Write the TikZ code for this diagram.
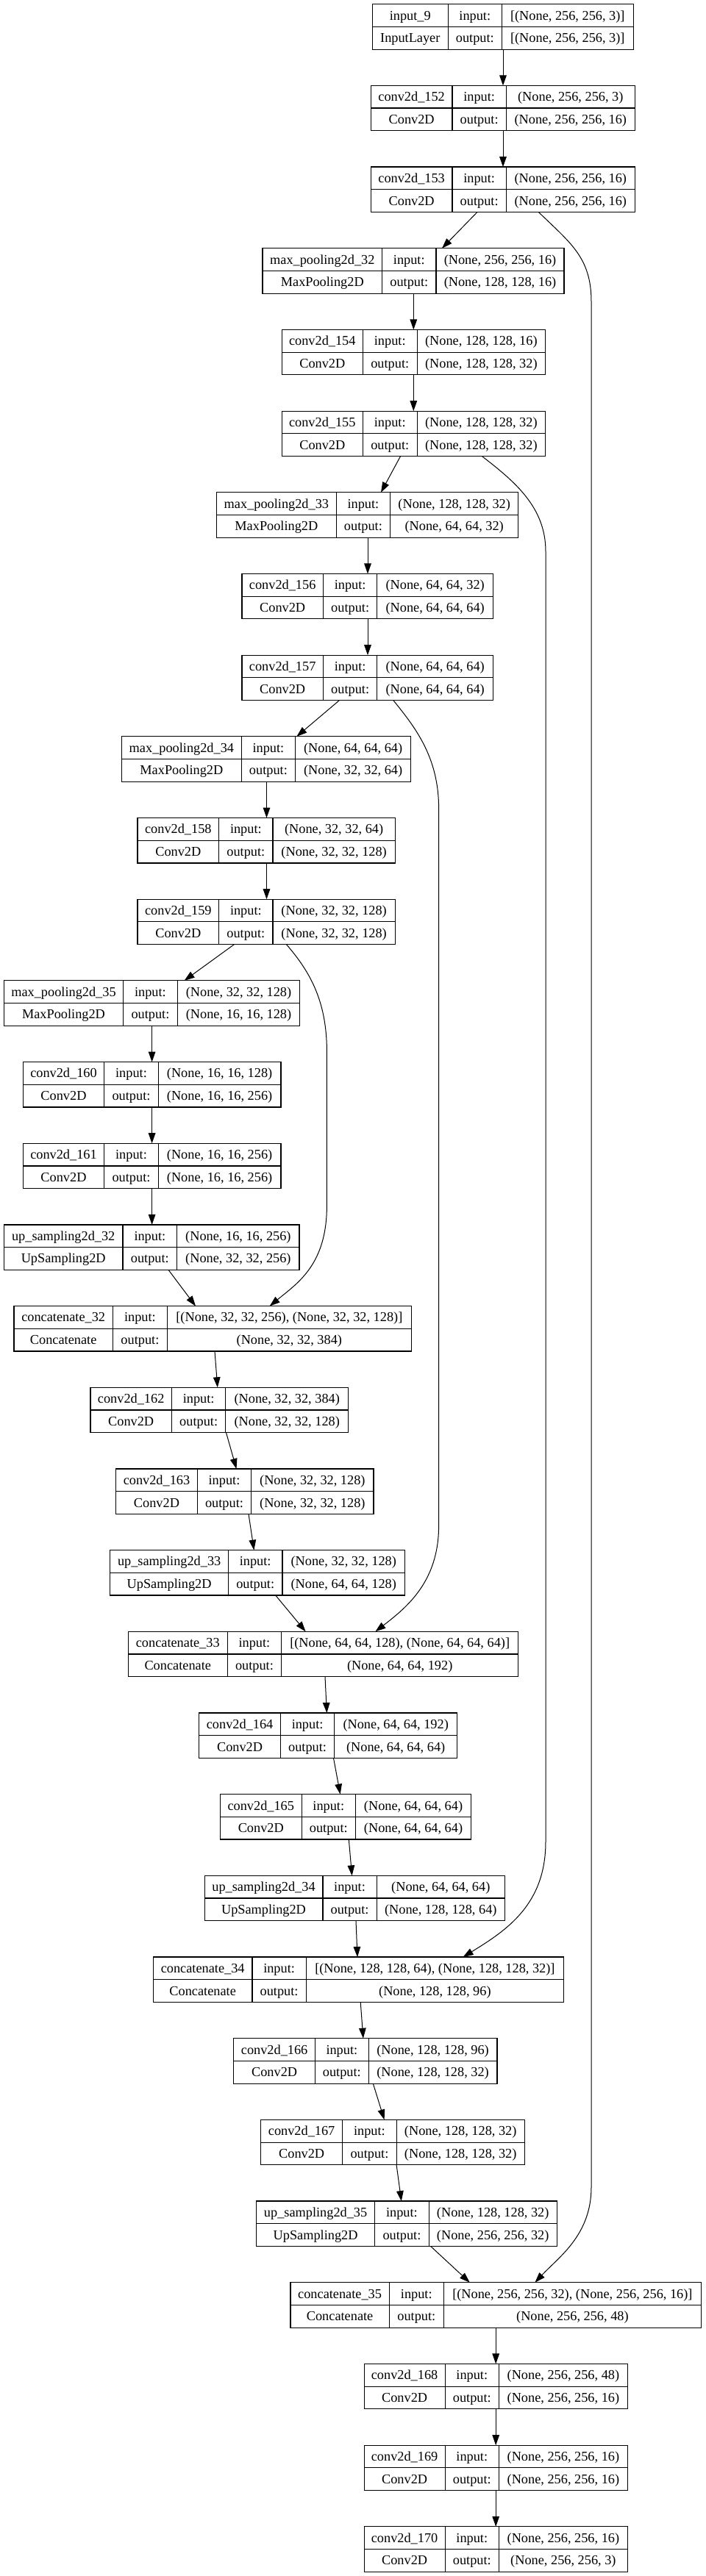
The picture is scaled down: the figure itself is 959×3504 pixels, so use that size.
\documentclass[tikz,border=0pt]{standalone}
\usepackage{fontspec}
\setmainfont{Liberation Serif}
\usetikzlibrary{arrows.meta}
\tikzset{
  boxline/.style={line width=1.2pt},
  lbl/.style={anchor=base, inner sep=0pt, font=\fontsize{18.3}{20}\selectfont},
  arr/.style={line width=1pt, -{Triangle[length=14pt,width=9.6pt]}},
}
% #1 name, #2 row index, #3 x1, #4 x2, #5 divider 1, #6 divider 2, #7 layer name, #8 class, #9 input shape; then {output shape}
\newcommand\lay[9]{%
  \pgfmathsetmacro\LTy{5.7+#2*110.68}%
  \pgfmathsetmacro\LBy{\LTy+61.4}%
  \pgfmathsetmacro\LMy{\LTy+30.7}%
  \pgfmathsetmacro\LWd{#4-#3}%
  \pgfmathsetmacro\LRa{\LTy+21.35}%
  \pgfmathsetmacro\LRb{\LTy+52.05}%
  \pgfmathsetmacro\LCa{(#3+#5)/2}%
  \pgfmathsetmacro\LCb{(#5+#6)/2}%
  \pgfmathsetmacro\LCc{(#6+#4)/2}%
  \node[boxline, draw, anchor=north west, minimum width=\LWd pt, minimum height=61.4pt, inner sep=0pt, outer sep=0pt] (#1) at (#3,\LTy) {};
  \draw[boxline] (#3,\LMy) -- (#4,\LMy);
  \draw[boxline] (#5,\LTy) -- (#5,\LBy);
  \draw[boxline] (#6,\LTy) -- (#6,\LBy);
  \node[lbl] (#1-name) at (\LCa,\LRa) {#7};
  \node[lbl] (#1-cls) at (\LCa,\LRb) {#8};
  \node[lbl] (#1-ik) at (\LCb,\LRa) {input:};
  \node[lbl] (#1-ok) at (\LCb,\LRb) {output:};
  \node[lbl] (#1-in) at (\LCc,\LRa) {#9};
  \layout{#1}}
\newcommand\layout[2]{\node[lbl] (#1-out) at (\LCc,\LRb) {#2};}
\begin{document}
\begin{tikzpicture}[x=1pt, y=-1pt]
\useasboundingbox (0,0) rectangle (959,3504);
\fill[white] (0,0) rectangle (959,3504);

\lay{n9}{0}{506.3}{861.3}{609.3}{682.3}{input\_9}{InputLayer}{[(None, 256, 256, 3)]}{[(None, 256, 256, 3)]}
\lay{c152}{1}{504.3}{863.3}{615}{688.3}{conv2d\_152}{Conv2D}{(None, 256, 256, 3)}{(None, 256, 256, 16)}
\lay{c153}{2}{504.3}{863.3}{615}{688.3}{conv2d\_153}{Conv2D}{(None, 256, 256, 16)}{(None, 256, 256, 16)}
\lay{mp32}{3}{357}{767}{519.6}{593}{max\_pooling2d\_32}{MaxPooling2D}{(None, 256, 256, 16)}{(None, 128, 128, 16)}
\lay{c154}{4}{383.3}{741.5}{493.3}{567.2}{conv2d\_154}{Conv2D}{(None, 128, 128, 16)}{(None, 128, 128, 32)}
\lay{c155}{5}{383.3}{741.5}{493.3}{567.2}{conv2d\_155}{Conv2D}{(None, 128, 128, 32)}{(None, 128, 128, 32)}
\lay{mp33}{6}{294.6}{704.8}{457.2}{530.6}{max\_pooling2d\_33}{MaxPooling2D}{(None, 128, 128, 32)}{(None, 64, 64, 32)}
\lay{c156}{7}{328.9}{670.5}{439.5}{512.8}{conv2d\_156}{Conv2D}{(None, 64, 64, 32)}{(None, 64, 64, 64)}
\lay{c157}{8}{328.9}{670.5}{439.5}{512.8}{conv2d\_157}{Conv2D}{(None, 64, 64, 64)}{(None, 64, 64, 64)}
\lay{mp34}{9}{165.6}{558.7}{328.2}{401.6}{max\_pooling2d\_34}{MaxPooling2D}{(None, 64, 64, 64)}{(None, 32, 32, 64)}
\lay{c158}{10}{187}{537.3}{297.7}{371}{conv2d\_158}{Conv2D}{(None, 32, 32, 64)}{(None, 32, 32, 128)}
\lay{c159}{11}{187}{537.3}{297.7}{371}{conv2d\_159}{Conv2D}{(None, 32, 32, 128)}{(None, 32, 32, 128)}
\lay{mp35}{12}{5.5}{407.7}{167.5}{241.4}{max\_pooling2d\_35}{MaxPooling2D}{(None, 32, 32, 128)}{(None, 16, 16, 128)}
\lay{c160}{13}{31.2}{382}{141.8}{215.2}{conv2d\_160}{Conv2D}{(None, 16, 16, 128)}{(None, 16, 16, 256)}
\lay{c161}{14}{31.2}{382}{141.8}{215.2}{conv2d\_161}{Conv2D}{(None, 16, 16, 256)}{(None, 16, 16, 256)}
\lay{up32}{15}{5.5}{407}{166.9}{240.8}{up\_sampling2d\_32}{UpSampling2D}{(None, 16, 16, 256)}{(None, 32, 32, 256)}
\lay{cc32}{16}{19}{559.3}{153.4}{227.4}{concatenate\_32}{Concatenate}{[(None, 32, 32, 256), (None, 32, 32, 128)]}{(None, 32, 32, 384)}
\lay{c162}{17}{122.9}{473.7}{233.5}{306.8}{conv2d\_162}{Conv2D}{(None, 32, 32, 384)}{(None, 32, 32, 128)}
\lay{c163}{18}{157.7}{508}{268.3}{341.7}{conv2d\_163}{Conv2D}{(None, 32, 32, 128)}{(None, 32, 32, 128)}
\lay{up33}{19}{149.8}{550.7}{310.5}{383.9}{up\_sampling2d\_33}{UpSampling2D}{(None, 32, 32, 128)}{(None, 64, 64, 128)}
\lay{cc33}{20}{174.2}{704.8}{309.3}{382.6}{concatenate\_33}{Concatenate}{[(None, 64, 64, 128), (None, 64, 64, 64)]}{(None, 64, 64, 192)}
\lay{c164}{21}{270.8}{621.6}{381.4}{454.8}{conv2d\_164}{Conv2D}{(None, 64, 64, 192)}{(None, 64, 64, 64)}
\lay{c165}{22}{299.5}{640.6}{410.1}{483.5}{conv2d\_165}{Conv2D}{(None, 64, 64, 64)}{(None, 64, 64, 64)}
\lay{up34}{23}{278.1}{686.4}{438.9}{512.2}{up\_sampling2d\_34}{UpSampling2D}{(None, 64, 64, 64)}{(None, 128, 128, 64)}
\lay{cc34}{24}{208.4}{766.5}{342.9}{416.3}{concatenate\_34}{Concatenate}{[(None, 128, 128, 64), (None, 128, 128, 32)]}{(None, 128, 128, 96)}
\lay{c166}{25}{317.8}{676}{428.5}{501.2}{conv2d\_166}{Conv2D}{(None, 128, 128, 96)}{(None, 128, 128, 32)}
\lay{c167}{26}{354.5}{713.3}{465.8}{539.1}{conv2d\_167}{Conv2D}{(None, 128, 128, 32)}{(None, 128, 128, 32)}
\lay{up35}{27}{348.4}{757.3}{509.8}{583.1}{up\_sampling2d\_35}{UpSampling2D}{(None, 128, 128, 32)}{(None, 256, 256, 32)}
\lay{cc35}{28}{394.9}{953.5}{529.3}{603.3}{concatenate\_35}{Concatenate}{[(None, 256, 256, 32), (None, 256, 256, 16)]}{(None, 256, 256, 48)}
\lay{c168}{29}{495.1}{853.3}{605.1}{678.5}{conv2d\_168}{Conv2D}{(None, 256, 256, 48)}{(None, 256, 256, 16)}
\lay{c169}{30}{495.1}{853.3}{605.1}{678.5}{conv2d\_169}{Conv2D}{(None, 256, 256, 16)}{(None, 256, 256, 16)}
\lay{c170}{31}{495.1}{853.3}{605.1}{678.5}{conv2d\_170}{Conv2D}{(None, 256, 256, 16)}{(None, 256, 256, 3)}

% main chain
\draw[arr] (684,0 |- n9.south) -- (684,0 |- c152.north);
\draw[arr] (684,0 |- c152.south) -- (684,0 |- c153.north);
\draw[arr] (649,0 |- c153.south) -- (601,0 |- mp32.north);
\draw[arr] (562.3,0 |- mp32.south) -- (562.3,0 |- c154.north);
\draw[arr] (562.3,0 |- c154.south) -- (562.3,0 |- c155.north);
\draw[arr] (544.6,0 |- c155.south) -- (518,0 |- mp33.north);
\draw[arr] (500,0 |- mp33.south) -- (500,0 |- c156.north);
\draw[arr] (500,0 |- c156.south) -- (500,0 |- c157.north);
\draw[arr] (461.5,0 |- c157.south) -- (403.4,0 |- mp34.north);
\draw[arr] (362.5,0 |- mp34.south) -- (362.5,0 |- c158.north);
\draw[arr] (362.5,0 |- c158.south) -- (362.5,0 |- c159.north);
\draw[arr] (318.5,0 |- c159.south) -- (250.6,0 |- mp35.north);
\draw[arr] (206.6,0 |- mp35.south) -- (206.6,0 |- c160.north);
\draw[arr] (206.6,0 |- c160.south) -- (206.6,0 |- c161.north);
\draw[arr] (206.6,0 |- c161.south) -- (206.6,0 |- up32.north);
\draw[arr] (229,0 |- up32.south) -- (266,0 |- cc32.north);
\draw[arr] (292,0 |- cc32.south) -- (295.8,0 |- c162.north);
\draw[arr] (307.5,0 |- c162.south) -- (321.5,0 |- c163.north);
\draw[arr] (338,0 |- c163.south) -- (345.4,0 |- up33.north);
\draw[arr] (374.7,0 |- up33.south) -- (415.6,0 |- cc33.north);
\draw[arr] (442,0 |- cc33.south) -- (444.4,0 |- c164.north);
\draw[arr] (453.5,0 |- c164.south) -- (462.7,0 |- c165.north);
\draw[arr] (474.3,0 |- c165.south) -- (478.6,0 |- up34.north);
\draw[arr] (484,0 |- up34.south) -- (486,0 |- cc34.north);
\draw[arr] (490.2,0 |- cc34.south) -- (493.9,0 |- c166.north);
\draw[arr] (507.3,0 |- c166.south) -- (522.6,0 |- c167.north);
\draw[arr] (539.1,0 |- c167.south) -- (545.8,0 |- up35.north);
\draw[arr] (585.6,0 |- up35.south) -- (638.8,0 |- cc35.north);
\draw[arr] (674.2,0 |- cc35.south) -- (674.2,0 |- c168.north);
\draw[arr] (674.2,0 |- c168.south) -- (674.2,0 |- c169.north);
\draw[arr] (674.2,0 |- c169.south) -- (674.2,0 |- c170.north);

% skip connections
\draw[arr] (732.3,0 |- c153.south) .. controls (775,330) and (804,350) .. (804,410)
  -- (804,2975) .. controls (804,3040) and (760,3070) .. (727.4,0 |- cc35.north);
\draw[arr] (655.3,0 |- c155.south) .. controls (700,655) and (742,690) .. (742,750)
  -- (742,2505) .. controls (742,2590) and (690,2625) .. (629.6,0 |- cc34.north);
\draw[arr] (534.8,0 |- c157.south) .. controls (565,990) and (596.6,1030) .. (596.6,1100)
  -- (596.6,2075) .. controls (596.6,2150) and (555,2185) .. (510.4,0 |- cc33.north);
\draw[arr] (389.4,0 |- c159.south) .. controls (420,1320) and (444.4,1360) .. (444.4,1430)
  -- (444.4,1640) .. controls (444.4,1720) and (405,1745) .. (366.7,0 |- cc32.north);
\end{tikzpicture}
\end{document}
